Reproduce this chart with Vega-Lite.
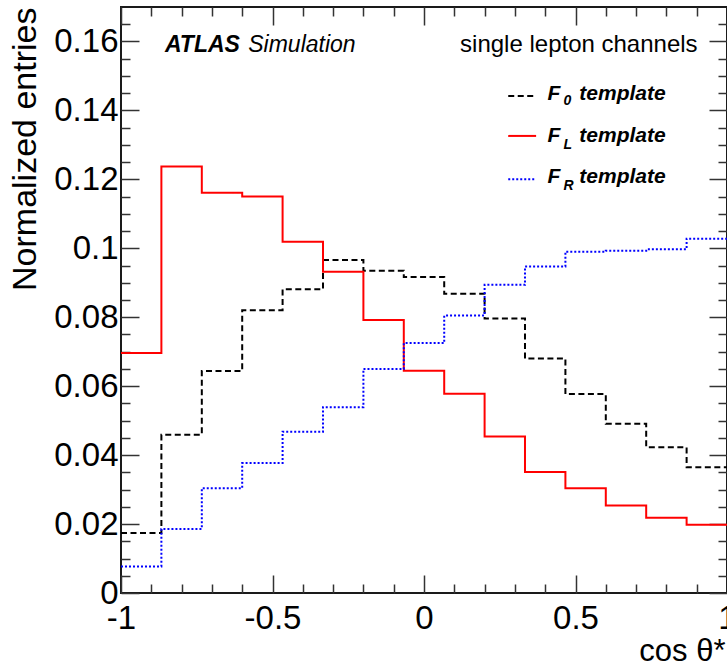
{
  "$schema": "https://vega.github.io/schema/vega-lite/v6.json",
  "width": 606,
  "height": 586,
  "autosize": {"type": "none"},
  "padding": {"left": 121, "top": 7, "right": 0, "bottom": 72},
  "background": "white",
  "config": {
    "font": "Liberation Sans",
    "view": {"stroke": "#1a1a1a", "strokeWidth": 2},
    "axis": {"domain": false, "grid": false, "tickColor": "#333333", "tickWidth": 1.5, "labelColor": "#000000", "titleColor": "#000000", "labelOverlap": false, "labelFlush": false, "labelBound": false}
  },
  "datasets": {
    "hist": [
      {"s": "F0", "lo": -1, "hi": -0.8667, "v": 0.0174},
      {"s": "F0", "lo": -0.8667, "hi": -0.7333, "v": 0.0459},
      {"s": "F0", "lo": -0.7333, "hi": -0.6, "v": 0.0644},
      {"s": "F0", "lo": -0.6, "hi": -0.4667, "v": 0.0820},
      {"s": "F0", "lo": -0.4667, "hi": -0.3333, "v": 0.0881},
      {"s": "F0", "lo": -0.3333, "hi": -0.2, "v": 0.0966},
      {"s": "F0", "lo": -0.2, "hi": -0.0667, "v": 0.0935},
      {"s": "F0", "lo": -0.0667, "hi": 0.0667, "v": 0.0917},
      {"s": "F0", "lo": 0.0667, "hi": 0.2, "v": 0.0868},
      {"s": "F0", "lo": 0.2, "hi": 0.3333, "v": 0.0796},
      {"s": "F0", "lo": 0.3333, "hi": 0.4667, "v": 0.0680},
      {"s": "F0", "lo": 0.4667, "hi": 0.6, "v": 0.0577},
      {"s": "F0", "lo": 0.6, "hi": 0.7333, "v": 0.0491},
      {"s": "F0", "lo": 0.7333, "hi": 0.8667, "v": 0.0423},
      {"s": "F0", "lo": 0.8667, "hi": 1, "v": 0.0365},
      {"s": "FL", "lo": -1, "hi": -0.8667, "v": 0.0696},
      {"s": "FL", "lo": -0.8667, "hi": -0.7333, "v": 0.1237},
      {"s": "FL", "lo": -0.7333, "hi": -0.6, "v": 0.1161},
      {"s": "FL", "lo": -0.6, "hi": -0.4667, "v": 0.1150},
      {"s": "FL", "lo": -0.4667, "hi": -0.3333, "v": 0.1019},
      {"s": "FL", "lo": -0.3333, "hi": -0.2, "v": 0.0932},
      {"s": "FL", "lo": -0.2, "hi": -0.0667, "v": 0.0792},
      {"s": "FL", "lo": -0.0667, "hi": 0.0667, "v": 0.0645},
      {"s": "FL", "lo": 0.0667, "hi": 0.2, "v": 0.0578},
      {"s": "FL", "lo": 0.2, "hi": 0.3333, "v": 0.0454},
      {"s": "FL", "lo": 0.3333, "hi": 0.4667, "v": 0.0351},
      {"s": "FL", "lo": 0.4667, "hi": 0.6, "v": 0.0304},
      {"s": "FL", "lo": 0.6, "hi": 0.7333, "v": 0.0254},
      {"s": "FL", "lo": 0.7333, "hi": 0.8667, "v": 0.0218},
      {"s": "FL", "lo": 0.8667, "hi": 1, "v": 0.0198},
      {"s": "FR", "lo": -1, "hi": -0.8667, "v": 0.0077},
      {"s": "FR", "lo": -0.8667, "hi": -0.7333, "v": 0.0186},
      {"s": "FR", "lo": -0.7333, "hi": -0.6, "v": 0.0304},
      {"s": "FR", "lo": -0.6, "hi": -0.4667, "v": 0.0377},
      {"s": "FR", "lo": -0.4667, "hi": -0.3333, "v": 0.0468},
      {"s": "FR", "lo": -0.3333, "hi": -0.2, "v": 0.0539},
      {"s": "FR", "lo": -0.2, "hi": -0.0667, "v": 0.0650},
      {"s": "FR", "lo": -0.0667, "hi": 0.0667, "v": 0.0725},
      {"s": "FR", "lo": 0.0667, "hi": 0.2, "v": 0.0805},
      {"s": "FR", "lo": 0.2, "hi": 0.3333, "v": 0.0894},
      {"s": "FR", "lo": 0.3333, "hi": 0.4667, "v": 0.0947},
      {"s": "FR", "lo": 0.4667, "hi": 0.6, "v": 0.0990},
      {"s": "FR", "lo": 0.6, "hi": 0.7333, "v": 0.0993},
      {"s": "FR", "lo": 0.7333, "hi": 0.8667, "v": 0.0997},
      {"s": "FR", "lo": 0.8667, "hi": 1, "v": 0.1028}
    ]
  },
  "layer": [
    {
      "data": {"name": "hist"},
      "mark": {"type": "point", "opacity": 0},
      "encoding": {
        "x": {"field": "lo", "type": "quantitative", "scale": {"domain": [-1, 1], "nice": false, "zero": false},
          "axis": {"orient": "bottom", "values": [-0.9, -0.8, -0.7, -0.6, -0.4, -0.3, -0.2, -0.1, 0.1, 0.2, 0.3, 0.4, 0.6, 0.7, 0.8, 0.9], "tickSize": -9, "labels": false, "title": null}},
        "y": {"field": "v", "type": "quantitative", "scale": {"domain": [0, 0.17], "nice": false, "zero": false},
          "axis": {"orient": "left", "values": [0.005, 0.01, 0.015, 0.025, 0.03, 0.035, 0.045, 0.05, 0.055, 0.065, 0.07, 0.075, 0.085, 0.09, 0.095, 0.105, 0.11, 0.115, 0.125, 0.13, 0.135, 0.145, 0.15, 0.155, 0.165], "tickSize": -9, "labels": false, "title": null}}
      }
    },
    {
      "data": {"name": "hist"},
      "mark": {"type": "point", "opacity": 0},
      "encoding": {
        "x": {"field": "lo", "type": "quantitative", "scale": {"domain": [-1, 1], "nice": false, "zero": false},
          "axis": {"orient": "top", "values": [-0.9, -0.8, -0.7, -0.6, -0.4, -0.3, -0.2, -0.1, 0.1, 0.2, 0.3, 0.4, 0.6, 0.7, 0.8, 0.9], "tickSize": -9, "labels": false, "title": null}},
        "y": {"field": "v", "type": "quantitative", "scale": {"domain": [0, 0.17], "nice": false, "zero": false},
          "axis": {"orient": "right", "values": [0.005, 0.01, 0.015, 0.025, 0.03, 0.035, 0.045, 0.05, 0.055, 0.065, 0.07, 0.075, 0.085, 0.09, 0.095, 0.105, 0.11, 0.115, 0.125, 0.13, 0.135, 0.145, 0.15, 0.155, 0.165], "tickSize": -9, "labels": false, "title": null}}
      }
    },
    {
      "data": {"name": "hist"},
      "mark": {"type": "point", "opacity": 0},
      "encoding": {
        "x": {"field": "lo", "type": "quantitative", "scale": {"domain": [-1, 1], "nice": false, "zero": false},
          "axis": {"orient": "top", "values": [-1, -0.5, 0, 0.5, 1], "tickSize": -18, "labels": false, "title": null}},
        "y": {"field": "v", "type": "quantitative", "scale": {"domain": [0, 0.17], "nice": false, "zero": false},
          "axis": {"orient": "right", "values": [0, 0.02, 0.04, 0.06, 0.08, 0.1, 0.12, 0.14, 0.16], "tickSize": -18, "labels": false, "title": null}}
      }
    },
    {
      "data": {"name": "hist"},
      "transform": [{"fold": ["lo", "hi"], "as": ["edge", "x"]}],
      "mark": {"type": "line", "strokeWidth": 2, "strokeCap": "butt"},
      "encoding": {
        "x": {"field": "x", "type": "quantitative", "scale": {"domain": [-1, 1], "nice": false, "zero": false},
          "axis": {"orient": "bottom", "values": [-1, -0.5, 0, 0.5, 1], "tickSize": -18, "labelPadding": 27, "labelFontSize": 33, "labelExpr": "toString(datum.value)",
            "title": "cos θ*", "titleFontSize": 31, "titleFontWeight": "normal", "titleX": 604, "titleY": 67, "titleAlign": "right", "titleBaseline": "alphabetic"}},
        "y": {"field": "v", "type": "quantitative", "scale": {"domain": [0, 0.17], "nice": false, "zero": false},
          "axis": {"orient": "left", "values": [0, 0.02, 0.04, 0.06, 0.08, 0.1, 0.12, 0.14, 0.16], "tickSize": -18, "labelPadding": 21, "labelFontSize": 33, "labelExpr": "toString(datum.value)",
            "title": "Normalized entries", "titleFontSize": 34, "titleFontWeight": "normal", "titleX": -86, "titleY": 0, "titleAngle": -90, "titleAlign": "right", "titleBaseline": "alphabetic"}},
        "color": {"field": "s", "type": "nominal", "scale": {"domain": ["F0", "FL", "FR"], "range": ["#000000", "#ff0000", "#0000ff"]}, "legend": null},
        "strokeDash": {"field": "s", "type": "nominal", "scale": {"domain": ["F0", "FL", "FR"], "range": [[6, 3.5], [1, 0], [2, 2]]}, "legend": null},
        "order": [{"field": "x", "type": "quantitative"}, {"field": "edge", "type": "nominal"}]
      }
    },
    {
      "data": {"values": [{}]},
      "mark": {"type": "text", "text": "ATLAS", "fontStyle": "italic", "fontWeight": "bold", "fontSize": 23, "align": "left", "baseline": "alphabetic"},
      "encoding": {"x": {"datum": -0.855, "type": "quantitative", "axis": null}, "y": {"datum": 0.157, "type": "quantitative", "axis": null}}
    },
    {
      "data": {"values": [{}]},
      "mark": {"type": "text", "text": "Simulation", "fontStyle": "italic", "fontSize": 23, "align": "left", "baseline": "alphabetic"},
      "encoding": {"x": {"datum": -0.58, "type": "quantitative", "axis": null}, "y": {"datum": 0.157, "type": "quantitative", "axis": null}}
    },
    {
      "data": {"values": [{}]},
      "mark": {"type": "text", "text": "single lepton channels", "fontSize": 24, "align": "right", "baseline": "alphabetic"},
      "encoding": {"x": {"datum": 0.903, "type": "quantitative", "axis": null}, "y": {"datum": 0.157, "type": "quantitative", "axis": null}}
    },
    {
      "data": {"values": [{}]},
      "mark": {"type": "rule", "color": "#000000", "strokeWidth": 2, "strokeDash": [6, 3.5]},
      "encoding": {"x": {"datum": 0.278, "type": "quantitative", "axis": null}, "x2": {"datum": 0.37}, "y": {"datum": 0.1442, "type": "quantitative", "axis": null}}
    },
    {
      "data": {"values": [{}]},
      "mark": {"type": "rule", "color": "#ff0000", "strokeWidth": 2},
      "encoding": {"x": {"datum": 0.278, "type": "quantitative", "axis": null}, "x2": {"datum": 0.37}, "y": {"datum": 0.1326, "type": "quantitative", "axis": null}}
    },
    {
      "data": {"values": [{}]},
      "mark": {"type": "rule", "color": "#0000ff", "strokeWidth": 2, "strokeDash": [2, 2]},
      "encoding": {"x": {"datum": 0.278, "type": "quantitative", "axis": null}, "x2": {"datum": 0.37}, "y": {"datum": 0.12, "type": "quantitative", "axis": null}}
    },
    {
      "data": {"values": [{"t": "F", "y": 0.143}, {"t": "F", "y": 0.1308}, {"t": "F", "y": 0.119}]},
      "mark": {"type": "text", "fontStyle": "italic", "fontWeight": "bold", "fontSize": 21, "align": "left", "baseline": "alphabetic"},
      "encoding": {"text": {"field": "t"}, "x": {"datum": 0.408, "type": "quantitative", "axis": null}, "y": {"field": "y", "type": "quantitative", "axis": null}}
    },
    {
      "data": {"values": [{"t": "0", "y": 0.1415}, {"t": "L", "y": 0.1287}, {"t": "R", "y": 0.1169}]},
      "mark": {"type": "text", "fontStyle": "italic", "fontWeight": "bold", "fontSize": 14, "align": "left", "baseline": "alphabetic"},
      "encoding": {"text": {"field": "t"}, "x": {"datum": 0.46, "type": "quantitative", "axis": null}, "y": {"field": "y", "type": "quantitative", "axis": null}}
    },
    {
      "data": {"values": [{"t": "template", "y": 0.143}, {"t": "template", "y": 0.1308}, {"t": "template", "y": 0.119}]},
      "mark": {"type": "text", "fontStyle": "italic", "fontWeight": "bold", "fontSize": 21, "align": "left", "baseline": "alphabetic"},
      "encoding": {"text": {"field": "t"}, "x": {"datum": 0.5125, "type": "quantitative", "axis": null}, "y": {"field": "y", "type": "quantitative", "axis": null}}
    }
  ],
  "resolve": {"axis": {"x": "independent", "y": "independent"}, "scale": {"x": "shared", "y": "shared"}}
}
